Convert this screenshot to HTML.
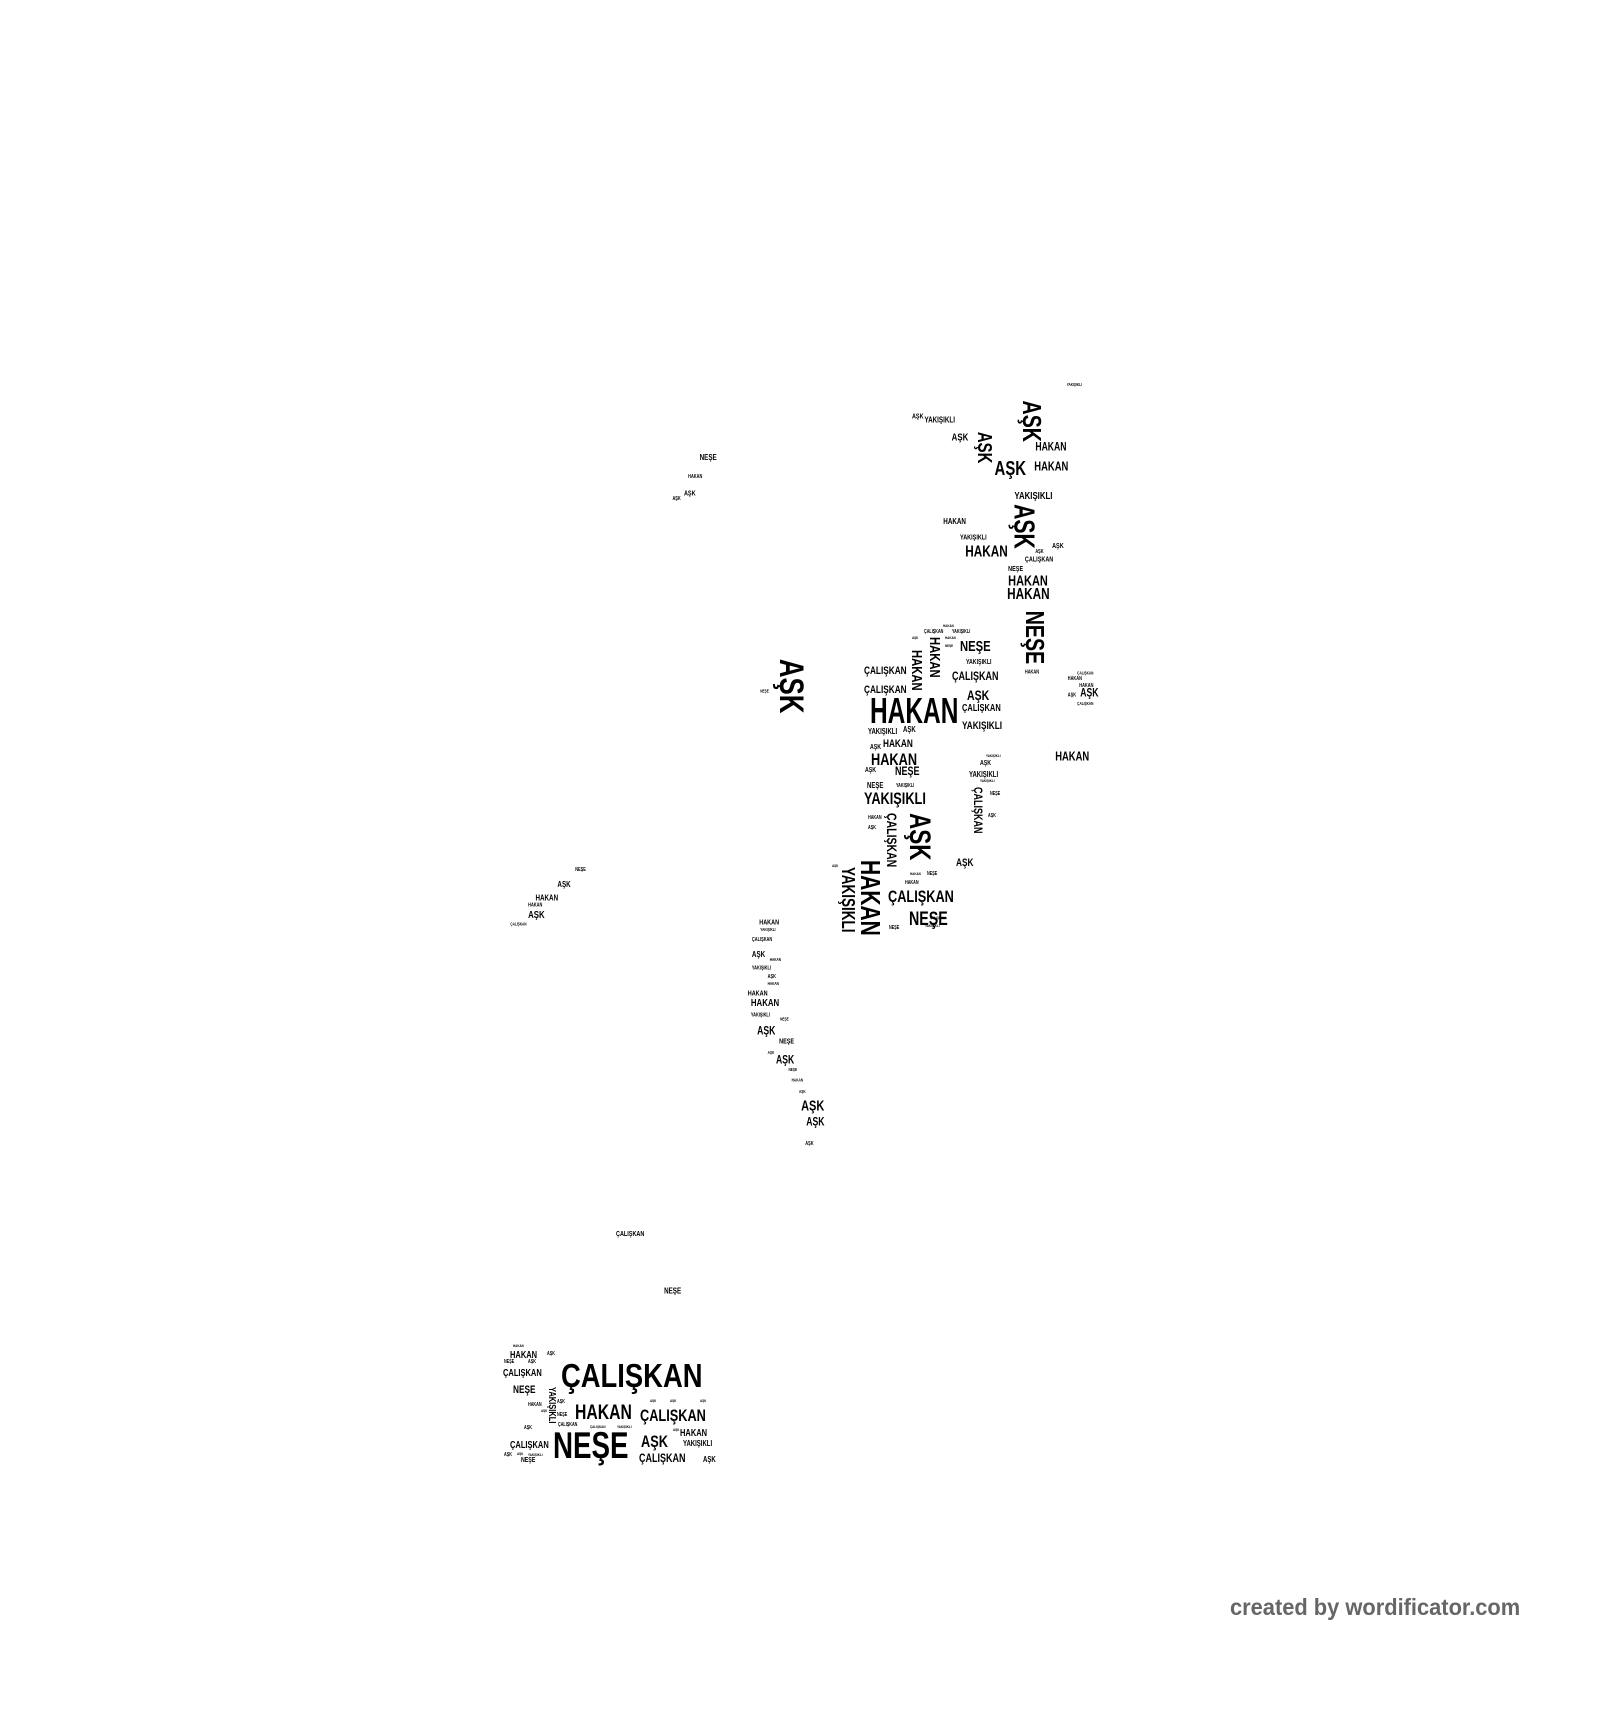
<!DOCTYPE html>
<html><head><meta charset="utf-8"><style>
html,body{margin:0;padding:0;background:#fff;width:1600px;height:1640px;overflow:hidden}
.c{position:absolute;left:0;top:0;width:1600px;height:1640px}
.s{transform:scale(1.0458);transform-origin:0 0}
i{position:absolute;font-style:normal;font-family:"Liberation Sans",Arial,sans-serif;font-weight:bold;color:#000;line-height:1;white-space:nowrap;transform-origin:0 0;margin-top:-.13em;transform:scaleX(.75)}
i.v{margin-top:0;margin-left:.13em;transform:rotate(90deg) scaleX(.75)}
.f{position:absolute;left:1230px;top:1596px;font-family:"Liberation Sans",Arial,sans-serif;font-weight:bold;font-size:23px;color:#666;line-height:1;white-space:nowrap;transform:scaleX(.95);transform-origin:0 0}
</style></head><body>
<div class="c s">
<i style="left:1020px;top:367px;font-size:4px">YAKIŞIKLI</i>
<i class="v" style="left:995px;top:383px;font-size:25px">AŞK</i>
<i style="left:872px;top:396px;font-size:7px">AŞK</i>
<i style="left:884px;top:399px;font-size:8px">YAKIŞIKLI</i>
<i style="left:910px;top:415px;font-size:10px">AŞK</i>
<i class="v" style="left:948px;top:413px;font-size:19px">AŞK</i>
<i style="left:990px;top:424px;font-size:11px">HAKAN</i>
<i style="left:951px;top:441px;font-size:19px">AŞK</i>
<i style="left:989px;top:442px;font-size:12px">HAKAN</i>
<i style="left:970px;top:471px;font-size:10px">YAKIŞIKLI</i>
<i class="v" style="left:988px;top:482px;font-size:27px">AŞK</i>
<i style="left:902px;top:496px;font-size:8px">HAKAN</i>
<i style="left:918px;top:512px;font-size:7px">YAKIŞIKLI</i>
<i style="left:923px;top:522px;font-size:15px">HAKAN</i>
<i style="left:1006px;top:520px;font-size:7px">AŞK</i>
<i style="left:990px;top:527px;font-size:5px">AŞK</i>
<i style="left:980px;top:533px;font-size:7px">ÇALIŞKAN</i>
<i style="left:964px;top:542px;font-size:7px">NEŞE</i>
<i style="left:964px;top:550px;font-size:14px">HAKAN</i>
<i style="left:963px;top:563px;font-size:15px">HAKAN</i>
<i class="v" style="left:998px;top:584px;font-size:25px">NEŞE</i>
<i style="left:980px;top:642px;font-size:5px">HAKAN</i>
<i style="left:1030px;top:643px;font-size:4px">ÇALIŞKAN</i>
<i style="left:1021px;top:648px;font-size:5px">HAKAN</i>
<i style="left:1032px;top:655px;font-size:5px">HAKAN</i>
<i style="left:1033px;top:659px;font-size:11px">AŞK</i>
<i style="left:1021px;top:664px;font-size:5px">AŞK</i>
<i style="left:1030px;top:672px;font-size:4px">ÇALIŞKAN</i>
<i style="left:1009px;top:719px;font-size:12px">HAKAN</i>
<i style="left:669px;top:435px;font-size:8px">NEŞE</i>
<i style="left:658px;top:455px;font-size:5px">HAKAN</i>
<i style="left:654px;top:470px;font-size:7px">AŞK</i>
<i style="left:643px;top:476px;font-size:5px">AŞK</i>
<i class="v" style="left:770px;top:630px;font-size:33px">AŞK</i>
<i style="left:727px;top:660px;font-size:4px">NEŞE</i>
<i style="left:589px;top:1178px;font-size:7px">ÇALIŞKAN</i>
<i style="left:635px;top:1232px;font-size:8px">NEŞE</i>
<i style="left:550px;top:831px;font-size:5px">NEŞE</i>
<i style="left:533px;top:843px;font-size:8px">AŞK</i>
<i style="left:512px;top:856px;font-size:8px">HAKAN</i>
<i style="left:505px;top:865px;font-size:5px">HAKAN</i>
<i style="left:505px;top:872px;font-size:10px">AŞK</i>
<i style="left:488px;top:883px;font-size:4px">ÇALIŞKAN</i>
<i style="left:726px;top:880px;font-size:7px">HAKAN</i>
<i style="left:727px;top:888px;font-size:4px">YAKIŞIKLI</i>
<i style="left:719px;top:898px;font-size:5px">ÇALIŞKAN</i>
<i style="left:719px;top:910px;font-size:8px">AŞK</i>
<i style="left:736px;top:917px;font-size:4px">HAKAN</i>
<i style="left:719px;top:925px;font-size:5px">YAKIŞIKLI</i>
<i style="left:734px;top:933px;font-size:5px">AŞK</i>
<i style="left:734px;top:940px;font-size:4px">HAKAN</i>
<i style="left:715px;top:948px;font-size:7px">HAKAN</i>
<i style="left:718px;top:956px;font-size:10px">HAKAN</i>
<i style="left:718px;top:970px;font-size:5px">YAKIŞIKLI</i>
<i style="left:746px;top:974px;font-size:4px">NEŞE</i>
<i style="left:724px;top:982px;font-size:11px">AŞK</i>
<i style="left:745px;top:994px;font-size:7px">NEŞE</i>
<i style="left:734px;top:1006px;font-size:4px">AŞK</i>
<i style="left:742px;top:1010px;font-size:11px">AŞK</i>
<i style="left:754px;top:1022px;font-size:4px">NEŞE</i>
<i style="left:757px;top:1032px;font-size:4px">HAKAN</i>
<i style="left:764px;top:1043px;font-size:4px">AŞK</i>
<i style="left:766px;top:1052px;font-size:14px">AŞK</i>
<i style="left:771px;top:1069px;font-size:11px">AŞK</i>
<i style="left:770px;top:1093px;font-size:5px">AŞK</i>
</div>
<div class="c">
<i style="left:943px;top:625px;font-size:4px">HAKAN</i>
<i style="left:924px;top:631px;font-size:5px">ÇALIŞKAN</i>
<i style="left:952px;top:631px;font-size:5px">YAKIŞIKLI</i>
<i style="left:912px;top:637px;font-size:4px">AŞK</i>
<i class="v" style="left:940px;top:637px;font-size:15px">HAKAN</i>
<i style="left:945px;top:637px;font-size:4px">HAKAN</i>
<i style="left:945px;top:645px;font-size:4px">NEŞE</i>
<i style="left:960px;top:641px;font-size:15px">NEŞE</i>
<i class="v" style="left:922px;top:650px;font-size:15px">HAKAN</i>
<i style="left:966px;top:660px;font-size:7px">YAKIŞIKLI</i>
<i style="left:864px;top:667px;font-size:11px">ÇALIŞKAN</i>
<i style="left:952px;top:672px;font-size:12px">ÇALIŞKAN</i>
<i style="left:864px;top:686px;font-size:11px">ÇALIŞKAN</i>
<i style="left:967px;top:690px;font-size:14px">AŞK</i>
<i style="left:870px;top:698px;font-size:36px;transform:scaleX(.68)">HAKAN</i>
<i style="left:962px;top:705px;font-size:10px">ÇALIŞKAN</i>
<i style="left:962px;top:722px;font-size:11px">YAKIŞIKLI</i>
<i style="left:868px;top:729px;font-size:8px">YAKIŞIKLI</i>
<i style="left:903px;top:727px;font-size:8px">AŞK</i>
<i style="left:870px;top:745px;font-size:7px">AŞK</i>
<i style="left:883px;top:740px;font-size:11px">HAKAN</i>
<i style="left:871px;top:753px;font-size:17px">HAKAN</i>
<i style="left:865px;top:768px;font-size:7px">AŞK</i>
<i style="left:895px;top:767px;font-size:12px">NEŞE</i>
<i style="left:867px;top:783px;font-size:8px">NEŞE</i>
<i style="left:896px;top:785px;font-size:5px">YAKIŞIKLI</i>
<i style="left:864px;top:792px;font-size:17px">YAKIŞIKLI</i>
<i style="left:986px;top:755px;font-size:4px">YAKIŞIKLI</i>
<i style="left:980px;top:761px;font-size:7px">AŞK</i>
<i style="left:969px;top:772px;font-size:8px">YAKIŞIKLI</i>
<i style="left:980px;top:780px;font-size:4px">YAKIŞIKLI</i>
<i style="left:990px;top:793px;font-size:5px">NEŞE</i>
<i class="v" style="left:982px;top:787px;font-size:12px">ÇALIŞKAN</i>
<i style="left:988px;top:815px;font-size:5px">AŞK</i>
<i style="left:868px;top:817px;font-size:5px">HAKAN</i>
<i style="left:868px;top:827px;font-size:5px">AŞK</i>
<i class="v" style="left:897px;top:813px;font-size:14px">ÇALIŞKAN</i>
<i class="v" style="left:930px;top:813px;font-size:30px">AŞK</i>
<i class="v" style="left:880px;top:860px;font-size:28px">HAKAN</i>
<i class="v" style="left:855px;top:867px;font-size:18px">YAKIŞIKLI</i>
<i style="left:832px;top:865px;font-size:4px">AŞK</i>
<i style="left:956px;top:859px;font-size:11px">AŞK</i>
<i style="left:910px;top:873px;font-size:4px">HAKAN</i>
<i style="left:927px;top:873px;font-size:5px">NEŞE</i>
<i style="left:905px;top:882px;font-size:5px">HAKAN</i>
<i style="left:888px;top:890px;font-size:17px">ÇALIŞKAN</i>
<i style="left:909px;top:912px;font-size:19px">NEŞE</i>
<i style="left:889px;top:927px;font-size:5px">NEŞE</i>
<i style="left:930px;top:917px;font-size:4px">ÇALIŞKAN</i>
<i style="left:925px;top:925px;font-size:4px">YAKIŞIKLI</i>

<i style="left:513px;top:1345px;font-size:4px">HAKAN</i>
<i style="left:510px;top:1352px;font-size:10px">HAKAN</i>
<i style="left:547px;top:1353px;font-size:5px">AŞK</i>
<i style="left:504px;top:1361px;font-size:5px">NEŞE</i>
<i style="left:528px;top:1361px;font-size:5px">AŞK</i>
<i style="left:503px;top:1370px;font-size:10px">ÇALIŞKAN</i>
<i style="left:561px;top:1363px;font-size:33px;transform:scaleX(.83)">ÇALIŞKAN</i>
<i style="left:513px;top:1386px;font-size:11px">NEŞE</i>
<i class="v" style="left:555px;top:1387px;font-size:10px">YAKIŞIKLI</i>
<i style="left:557px;top:1401px;font-size:5px">AŞK</i>
<i style="left:528px;top:1404px;font-size:5px">HAKAN</i>
<i style="left:575px;top:1405px;font-size:21px">HAKAN</i>
<i style="left:640px;top:1409px;font-size:17px">ÇALIŞKAN</i>
<i style="left:650px;top:1400px;font-size:4px">AŞK</i>
<i style="left:670px;top:1400px;font-size:4px">AŞK</i>
<i style="left:700px;top:1400px;font-size:4px">AŞK</i>
<i style="left:557px;top:1414px;font-size:5px">NEŞE</i>
<i style="left:541px;top:1410px;font-size:4px">AŞK</i>
<i style="left:524px;top:1427px;font-size:5px">AŞK</i>
<i style="left:558px;top:1424px;font-size:5px">ÇALIŞKAN</i>
<i style="left:590px;top:1426px;font-size:4px">ÇALIŞKAN</i>
<i style="left:617px;top:1426px;font-size:4px">YAKIŞIKLI</i>
<i style="left:510px;top:1442px;font-size:10px">ÇALIŞKAN</i>
<i style="left:553px;top:1432px;font-size:37px">NEŞE</i>
<i style="left:641px;top:1435px;font-size:17px">AŞK</i>
<i style="left:680px;top:1430px;font-size:10px">HAKAN</i>
<i style="left:673px;top:1429px;font-size:4px">AŞK</i>
<i style="left:683px;top:1441px;font-size:8px">YAKIŞIKLI</i>
<i style="left:504px;top:1454px;font-size:5px">AŞK</i>
<i style="left:517px;top:1453px;font-size:4px">AŞK</i>
<i style="left:528px;top:1454px;font-size:4px">YAKIŞIKLI</i>
<i style="left:521px;top:1458px;font-size:7px">NEŞE</i>
<i style="left:639px;top:1454px;font-size:12px">ÇALIŞKAN</i>
<i style="left:703px;top:1457px;font-size:8px">AŞK</i>
</div>
<div class="f">created by wordificator.com</div>
</body></html>
